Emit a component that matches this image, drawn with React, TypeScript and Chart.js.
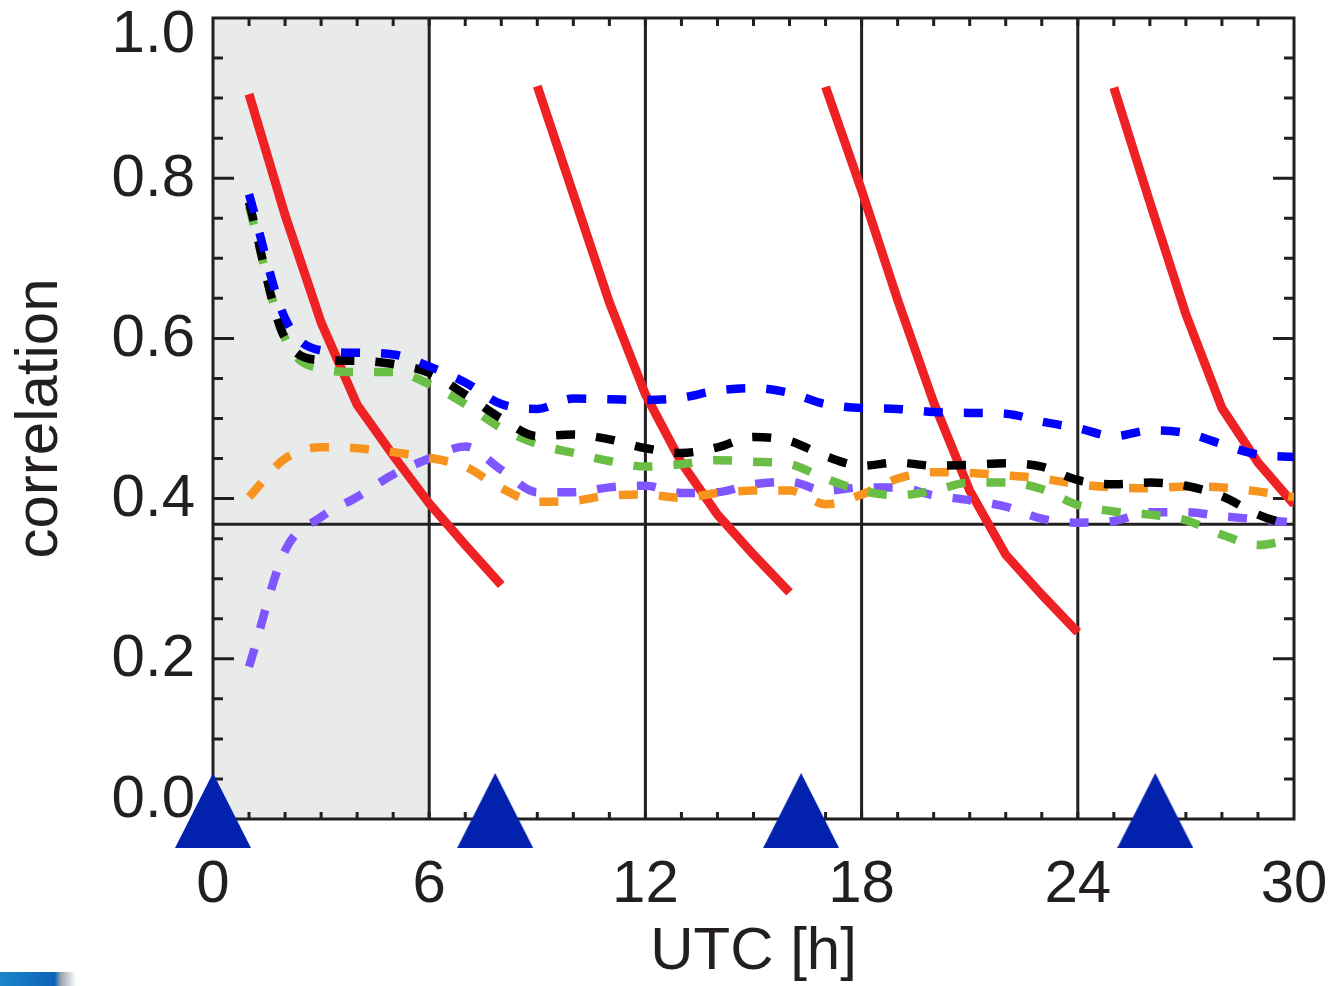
import React, { useEffect, useRef } from "react";
import { Chart, registerables } from "chart.js";

Chart.register(...registerables);

// ---------- data ----------
const hours = [1, 2, 3, 4, 5, 6, 7, 8, 9, 10, 11, 12, 13, 14, 15, 16, 17, 18, 19, 20, 21, 22, 23, 24, 25, 26, 27, 28, 29, 30];

const blueSeries = [0.78, 0.625, 0.585, 0.582, 0.58, 0.565, 0.545, 0.518, 0.512, 0.525, 0.524, 0.523, 0.526, 0.535, 0.538, 0.532, 0.518, 0.513, 0.512, 0.508, 0.507, 0.506, 0.496, 0.488, 0.478, 0.485, 0.482, 0.468, 0.455, 0.452];
const blackSeries = [0.77, 0.6, 0.573, 0.572, 0.568, 0.557, 0.53, 0.5, 0.478, 0.48, 0.474, 0.463, 0.457, 0.464, 0.477, 0.472, 0.453, 0.441, 0.445, 0.441, 0.442, 0.444, 0.44, 0.423, 0.418, 0.42, 0.416, 0.403, 0.38, 0.365];
const greenSeries = [0.765, 0.6, 0.562, 0.558, 0.558, 0.543, 0.518, 0.488, 0.468, 0.457, 0.447, 0.44, 0.443, 0.448, 0.446, 0.443, 0.425, 0.41, 0.404, 0.41, 0.42, 0.42, 0.412, 0.392, 0.384, 0.38, 0.373, 0.355, 0.342, 0.35];
const orangeSeries = [0.402, 0.45, 0.464, 0.463, 0.458, 0.451, 0.44, 0.413, 0.396, 0.397, 0.404, 0.405, 0.401, 0.407, 0.41, 0.41, 0.393, 0.405, 0.425, 0.433, 0.432, 0.429, 0.425, 0.418, 0.414, 0.413, 0.415, 0.414, 0.409, 0.402];
const purpleSeries = [0.19, 0.335, 0.377, 0.402, 0.43, 0.45, 0.465, 0.436, 0.408, 0.408, 0.414, 0.416, 0.407, 0.408, 0.418, 0.421, 0.41, 0.414, 0.414, 0.404, 0.398, 0.39, 0.375, 0.37, 0.372, 0.383, 0.383, 0.378, 0.374, 0.37];

const red1Hours = [1, 2, 3, 4, 5, 6, 7, 8];
const red1Values = [0.905, 0.754, 0.62, 0.517, 0.454, 0.394, 0.342, 0.292];
const red2Hours = [9, 10, 11, 12, 13, 14, 15, 16];
const red2Values = [0.915, 0.78, 0.645, 0.53, 0.445, 0.38, 0.33, 0.283];
const red3Hours = [17, 18, 19, 20, 21, 22, 23, 24];
const red3Values = [0.914, 0.785, 0.648, 0.52, 0.41, 0.33, 0.28, 0.233];
const red4Hours = [25, 26, 27, 28, 29, 30];
const red4Values = [0.913, 0.77, 0.63, 0.513, 0.445, 0.393];

const triangleHours = [0, 7.83, 16.32, 26.15];
const triangleValues = [0, 0, 0, 0];

const xTickValues = [0, 6, 12, 18, 24, 30];
const yTickValues = [0, 0.2, 0.4, 0.6, 0.8, 1.0];
const yTickLabels = ["0.0", "0.2", "0.4", "0.6", "0.8", "1.0"];

const dayLines = [6, 12, 18, 24];
const nightSpan = [0, 6];
const efoldLevel = 0.368;

// ---------- styles ----------
const FONT = "'Liberation Sans', Arial, Helvetica, sans-serif";
const INK = "#231f20";

const pts = (xs: number[], ys: number[]) => xs.map((x, i) => ({ x, y: ys[i] }));

export default function App() {
  const ref = useRef<HTMLCanvasElement>(null);

  useEffect(() => {
    const canvas = ref.current;
    if (!canvas) return;

    const tri = document.createElement("canvas");
    tri.width = 76;
    tri.height = 92;
    const tctx = tri.getContext("2d")!;
    tctx.fillStyle = "#0222ae";
    tctx.beginPath();
    tctx.moveTo(38, 0);
    tctx.lineTo(76, 75);
    tctx.lineTo(0, 75);
    tctx.closePath();
    tctx.fill();

    const dashed = (label: string, color: string, ys: number[]) => ({
      type: "line" as const,
      label,
      data: pts(hours, ys),
      borderColor: color,
      backgroundColor: color,
      borderWidth: 8.5,
      borderDash: [19, 21],
      borderCapStyle: "butt" as const,
      pointRadius: 0,
      cubicInterpolationMode: "monotone" as const,
      fill: false,
    });
    const red = (xs: number[], ys: number[]) => ({
      type: "line" as const,
      label: "red",
      data: pts(xs, ys),
      borderColor: "#ee2224",
      backgroundColor: "#ee2224",
      borderWidth: 9,
      pointRadius: 0,
      tension: 0,
      fill: false,
    });

    const framePlugin = {
      id: "frame",
      beforeDatasetsDraw(chart: any) {
        const { ctx, chartArea: a, scales } = chart;
        const xs = scales.x;
        const ys = scales.y;
        ctx.save();
        // shaded night span
        const n0 = xs.getPixelForValue(nightSpan[0]);
        const n1 = xs.getPixelForValue(nightSpan[1]);
        ctx.fillStyle = "#e9ebea";
        ctx.fillRect(n0, a.top, n1 - n0, a.bottom - a.top);
        // vertical lines + e-fold line
        ctx.strokeStyle = INK;
        ctx.lineWidth = 3;
        ctx.beginPath();
        dayLines.forEach((v) => {
          const px = xs.getPixelForValue(v);
          ctx.moveTo(px, a.top);
          ctx.lineTo(px, a.bottom);
        });
        const ey = ys.getPixelForValue(efoldLevel);
        ctx.moveTo(a.left, ey);
        ctx.lineTo(a.right, ey);
        ctx.stroke();
        // minor ticks
        ctx.beginPath();
        for (let h = 1; h < 30; h++) {
          const px = xs.getPixelForValue(h);
          ctx.moveTo(px, a.top);
          ctx.lineTo(px, a.top + 8);
          ctx.moveTo(px, a.bottom);
          ctx.lineTo(px, a.bottom - 7);
        }
        for (let k = 1; k < 20; k++) {
          const py = ys.getPixelForValue(k * 0.05);
          const len = k % 4 === 0 ? 21 : 10;
          ctx.moveTo(a.left, py);
          ctx.lineTo(a.left + len, py);
          ctx.moveTo(a.right, py);
          ctx.lineTo(a.right - len, py);
        }
        ctx.stroke();
        ctx.strokeRect(a.left, a.top, a.right - a.left, a.bottom - a.top);
        // y tick labels
        ctx.fillStyle = INK;
        ctx.font = `60px ${FONT}`;
        ctx.textAlign = "right";
        ctx.textBaseline = "middle";
        yTickValues.forEach((v, i) => {
          let py = ys.getPixelForValue(v);
          py = Math.min(Math.max(py, a.top + 16), a.bottom - 20);
          ctx.fillText(yTickLabels[i], a.left - 18, py + 1);
        });
        ctx.restore();
      },
    };

    const chart = new Chart(canvas, {
      type: "line",
      data: {
        datasets: [
          {
            type: "line",
            label: "triangles",
            data: pts(triangleHours, triangleValues),
            showLine: false,
            pointStyle: tri as any,
            pointRadius: 10,
            pointHoverRadius: 10,
            clip: false as any,
          },
          dashed("blue", "#0000ff", blueSeries),
          dashed("black", "#000000", blackSeries),
          dashed("green", "#6abd45", greenSeries),
          dashed("orange", "#f7941d", orangeSeries),
          dashed("purple", "#7f56ff", purpleSeries),
          red(red1Hours, red1Values),
          red(red2Hours, red2Values),
          red(red3Hours, red3Values),
          red(red4Hours, red4Values),
        ] as any,
      },
      options: {
        responsive: false,
        animation: false,
        devicePixelRatio: 1,
        events: [],
        layout: { padding: { left: 0, right: 38, top: 18, bottom: 0 } },
        plugins: { legend: { display: false }, tooltip: { enabled: false } },
        scales: {
          x: {
            type: "linear",
            min: 0,
            max: 30,
            grid: { display: false, drawTicks: false },
            border: { display: false },
            afterBuildTicks: (s: any) => {
              s.ticks = xTickValues.map((v) => ({ value: v }));
            },
            ticks: {
              autoSkip: false,
              maxRotation: 0,
              padding: 30,
              color: INK,
              font: { family: FONT, size: 60, lineHeight: 1.2 },
            },
            title: {
              display: true,
              text: "UTC [h]",
              color: INK,
              font: { family: FONT, size: 60, lineHeight: 1.0 },
              padding: { top: 0, bottom: 4 },
            },
            afterFit: (s: any) => {
              s.height = 167;
              s.paddingLeft = 0;
              s.paddingRight = 0;
            },
          },
          y: {
            type: "linear",
            min: 0,
            max: 1,
            grid: { display: false, drawTicks: false },
            border: { display: false },
            ticks: { display: false },
            title: {
              display: true,
              text: "correlation",
              color: INK,
              font: { family: FONT, size: 60, lineHeight: 1.2 },
              padding: { top: 4, bottom: 0 },
            },
            afterFit: (s: any) => {
              s.width = 213;
              s.paddingTop = 0;
              s.paddingBottom = 0;
            },
          },
        },
      } as any,
      plugins: [framePlugin],
    });

    return () => chart.destroy();
  }, []);

  return (
    <div style={{ position: "absolute", left: 0, top: 0, width: 1332, height: 986, background: "#fff", overflow: "hidden" }}>
      <canvas ref={ref} width={1332} height={986} style={{ display: "block", width: 1332, height: 986 }} />
      <div
        style={{
          position: "absolute",
          left: 0,
          top: 972,
          width: 76,
          height: 14,
          background: "linear-gradient(90deg, #1a86cc 0%, #0b63b8 72%, #9aa3ad 80%, #ffffff 100%)",
        }}
      />
    </div>
  );
}
